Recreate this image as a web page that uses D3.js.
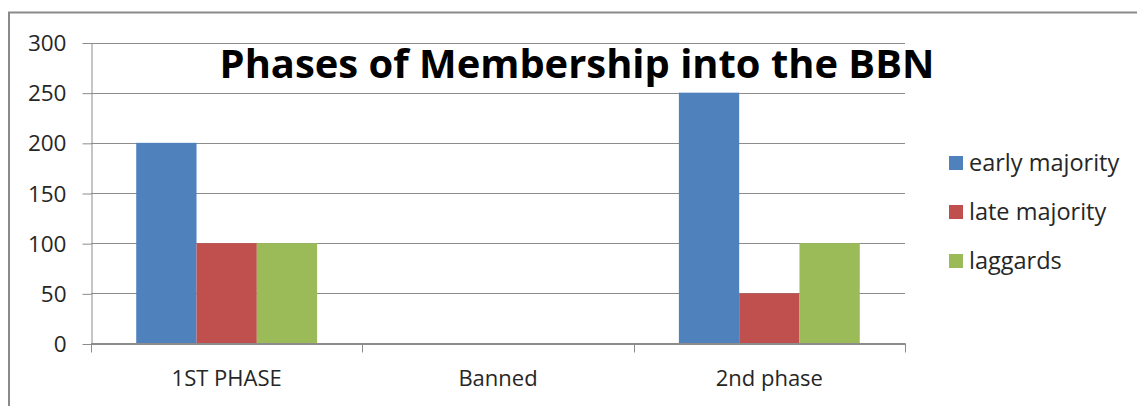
<!DOCTYPE html>
<html>
<head>
<meta charset="utf-8">
<script src="https://cdn.jsdelivr.net/npm/d3@7"></script>
<style>
  html, body { margin: 0; padding: 0; background: #fff; }
  svg { display: block; font-family: "Open Sans", sans-serif; }
</style>
</head>
<body>
<div id="chart"></div>
<script>
// Data
var categories = ['1ST PHASE', 'Banned', '2nd phase'];
var seriesNames = ['early majority', 'late majority', 'laggards'];
var earlyMajority = [200, 0, 250];
var lateMajority = [100, 0, 50];
var laggards = [100, 0, 100];
var yTicks = [0, 50, 100, 150, 200, 250, 300];
var chartTitle = 'Phases of Membership into the BBN';

var seriesValues = [earlyMajority, lateMajority, laggards];
var colors = ['#4F81BD', '#C0504D', '#9BBB59'];

var width = 1137, height = 406;
var plot = { left: 91, right: 905, top: 42.5, bottom: 343.5 };
var gridColor = '#8c8c8c';
var textColor = '#262626';

var svg = d3.select('#chart').append('svg')
    .attr('width', width)
    .attr('height', height);

// Outer chart border (only left and top are visible in the picture)
svg.append('rect')
    .attr('x', 9).attr('y', 12.5)
    .attr('width', 1300).attr('height', 600)
    .attr('fill', 'none')
    .attr('stroke', '#8a8a8a')
    .attr('stroke-width', 2);

// Scales
var xScale = d3.scaleBand().domain(categories).range([plot.left, plot.right]);
var bw = xScale.bandwidth();
var xInner = d3.scaleBand().domain(seriesNames).range([bw / 6, bw * 5 / 6]);
var yScale = d3.scaleLinear().domain([0, 300]).range([plot.bottom, plot.top]);

// Gridlines
svg.append('g').attr('class', 'grid')
    .selectAll('line').data(yTicks).enter().append('line')
    .attr('x1', plot.left).attr('x2', plot.right)
    .attr('y1', function(d) { return Math.round(yScale(d)) + 0.5; })
    .attr('y2', function(d) { return Math.round(yScale(d)) + 0.5; })
    .attr('stroke', gridColor).attr('stroke-width', 1);

// Title
var title = svg.append('text')
    .attr('x', 577).attr('y', 78)
    .attr('text-anchor', 'middle')
    .style('font-weight', 'bold')
    .style('font-size', '40px')
    .style('fill', '#000')
    .text(chartTitle);
// fit title to the width it has in the picture
var tl = title.node().getComputedTextLength();
title.style('font-size', (40 * 715 / tl) + 'px');

// Bars
var groups = svg.append('g').attr('class', 'bars')
    .selectAll('g').data(seriesNames).enter().append('g')
    .attr('fill', function(d, i) { return colors[i]; });
groups.selectAll('rect')
    .data(function(s, i) {
        return categories.map(function(c, j) { return { cat: c, series: s, value: seriesValues[i][j] }; });
    })
    .enter().append('rect')
    .attr('x', function(d) { return xScale(d.cat) + xInner(d.series); })
    .attr('width', xInner.bandwidth())
    .attr('y', function(d) { return yScale(d.value); })
    .attr('height', function(d) { return yScale(0) - yScale(d.value); });

// Y axis
var yAxis = svg.append('g').attr('class', 'axis y')
    .attr('transform', 'translate(' + (plot.left + 0.5) + ',0)')
    .call(d3.axisLeft(yScale).tickValues(yTicks).tickSize(9).tickPadding(16).tickSizeOuter(0));
yAxis.select('.domain').attr('stroke', gridColor);
yAxis.selectAll('.tick line').attr('stroke', gridColor)
    .attr('transform', 'translate(0,0.5)');
yAxis.selectAll('.tick text')
    .attr('dy', '0.36em')
    .style('font-family', '"Open Sans", sans-serif')
    .style('font-size', '22.5px')
    .style('fill', textColor);

// X axis line and boundary ticks
var xAxis = svg.append('g').attr('class', 'axis x');
xAxis.append('line')
    .attr('x1', plot.left).attr('x2', plot.right + 0.5)
    .attr('y1', plot.bottom).attr('y2', plot.bottom)
    .attr('stroke', gridColor);
var bounds = categories.map(function(c) { return xScale(c); }).concat([xScale.range()[1]]);
xAxis.selectAll('line.tick').data(bounds).enter().append('line')
    .attr('class', 'tick')
    .attr('x1', function(d) { return Math.round(d) + 0.5; })
    .attr('x2', function(d) { return Math.round(d) + 0.5; })
    .attr('y1', plot.bottom).attr('y2', plot.bottom + 9)
    .attr('stroke', gridColor);
xAxis.selectAll('text').data(categories).enter().append('text')
    .attr('x', function(d) { return xScale(d) + bw / 2; })
    .attr('y', 386)
    .attr('text-anchor', 'middle')
    .style('font-size', '22px')
    .style('fill', textColor)
    .text(function(d) { return d; });

// Legend
var legend = svg.append('g').attr('class', 'legend')
    .selectAll('g').data(seriesNames).enter().append('g')
    .attr('transform', function(d, i) { return 'translate(949,' + (163 + i * 49) + ')'; });
legend.append('rect')
    .attr('x', 0).attr('y', -7)
    .attr('width', 14).attr('height', 14)
    .attr('fill', function(d, i) { return colors[i]; });
legend.append('text')
    .attr('x', 20).attr('y', 0)
    .attr('dy', '0.35em')
    .style('font-size', '23.5px')
    .style('fill', textColor)
    .text(function(d) { return d; });
</script>
</body>
</html>
